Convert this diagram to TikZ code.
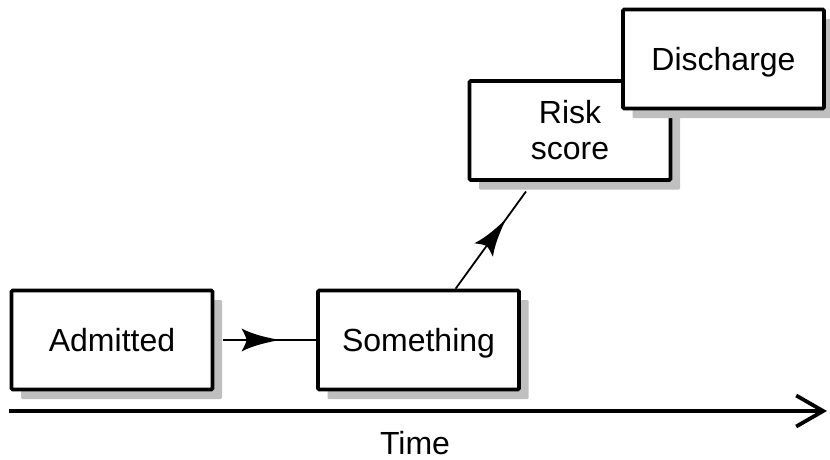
\documentclass[tikz,border=0pt]{standalone}
\usepackage{fontspec}
\setmainfont{Liberation Sans}
\usetikzlibrary{arrows.meta,shadows,decorations.markings}
\definecolor{shadowgray}{RGB}{191,191,191}
\newcommand{\boxfont}{\fontsize{32}{36}\selectfont}
\tikzset{
  stepbox/.style={draw, line width=3.6pt, rounded corners=1.2pt, fill=white,
    minimum width=201pt, minimum height=99pt, inner sep=0pt, align=center,
    font=\boxfont,
    drop shadow={shadow xshift=9.5pt, shadow yshift=-9.5pt, fill=shadowgray, opacity=1}},
  oneline/.style={text height=23pt, text depth=0pt},
  flow/.style={line width=1.8pt, postaction={decorate},
    decoration={markings, mark=at position #1 with {
      \fill (0,0) .. controls (-10,2) and (-26,5) .. (-38,11.5)
            .. controls (-35,6) and (-33.5,3) .. (-33,0)
            .. controls (-33.5,-3) and (-35,-6) .. (-38,-11.5)
            .. controls (-26,-5) and (-10,-2) .. (0,0) -- cycle;}}},
  axis/.style={line width=3.8pt, -{Straight Barb[length=27pt,width=31pt,line width=3.8pt]}}
}
\begin{document}
\begin{tikzpicture}[x=1pt,y=-1pt]
  \path[use as bounding box] (0,0) rectangle (830,460);

  % stages along the stay
  \node[stepbox, oneline] (admitted)  at (112,340)   {Admitted};
  \node[stepbox, oneline] (something) at (418.5,340) {Something};
  \node[stepbox]          (risk)      at (570,130.5) {Risk\\score};
  \node[stepbox, oneline] (discharge) at (723.5,59)  {Discharge};

  % transitions
  \draw[flow=0.64, shorten <=9pt] (admitted.east) -- (something.west);
  \draw[flow=0.65, shorten >=12pt] (something) -- (risk);

  % time axis
  \coordinate (t0) at (9,411);
  \coordinate (t1) at (827,411);
  \draw[axis] (t0) -- (t1);
  \node[font=\boxfont] (time) at (415,443) {Time};
\end{tikzpicture}
\end{document}
